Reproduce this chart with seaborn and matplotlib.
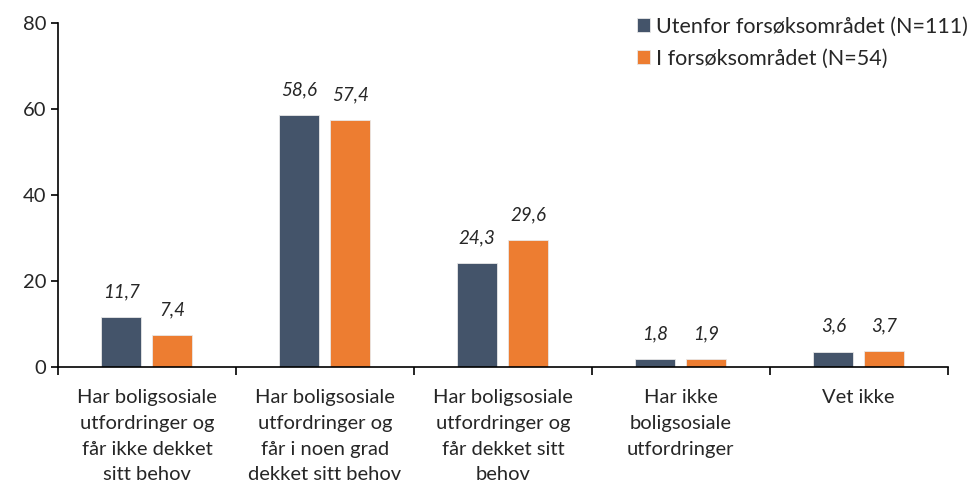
import pandas as pd
import numpy as np
import seaborn as sns
import matplotlib.pyplot as plt
from matplotlib.ticker import FixedLocator

categories = [
    "Har boligsosiale\nutfordringer og\nfår ikke dekket\nsitt behov",
    "Har boligsosiale\nutfordringer og\nfår i noen grad\ndekket sitt behov",
    "Har boligsosiale\nutfordringer og\nfår dekket sitt\nbehov",
    "Har ikke\nboligsosiale\nutfordringer",
    "Vet ikke",
]
utenfor = [11.7, 58.6, 24.3, 1.8, 3.6]
innenfor = [7.4, 57.4, 29.6, 1.9, 3.7]
groups = ["Utenfor forsøksområdet (N=111)", "I forsøksområdet (N=54)"]
colors = ["#44546A", "#ED7D31"]

df = pd.DataFrame({
    "kategori": categories * 2,
    "gruppe": [groups[0]] * 5 + [groups[1]] * 5,
    "verdi": utenfor + innenfor,
})

sns.set_style("white")
plt.rcParams["font.family"] = ["Lato", "DejaVu Sans"]

fig = plt.figure(figsize=(9.76, 4.93), dpi=100)
ax = fig.add_axes([0.0594, 0.2556, 0.9116, 0.6974])

sns.barplot(data=df, x="kategori", y="verdi", hue="gruppe", palette=colors,
            saturation=1, width=0.573, gap=0.216, edgecolor="#e8e8e8",
            linewidth=0.6, ax=ax, errorbar=None)

for cont in ax.containers:
    labels = [f"{v:.1f}".replace(".", ",") for v in cont.datavalues]
    ax.bar_label(cont, labels=labels, padding=12, fontsize=13.5, fontstyle="italic")

ax.set_ylim(0, 80)
ax.set_xlim(-0.5, 4.5)
ax.set_yticks([0, 20, 40, 60, 80])
ax.tick_params(axis="y", labelsize=14.5, length=5, width=1.2, color="black", left=True)
ax.tick_params(axis="x", which="major", labelsize=14.5, length=0, pad=16)
ax.xaxis.set_minor_locator(FixedLocator(np.arange(-0.5, 5, 1)))
ax.tick_params(axis="x", which="minor", length=6, width=1.2, color="black", bottom=True)
ax.set_xlabel("")
ax.set_ylabel("")
for t in ax.get_xticklabels():
    t.set_linespacing(1.62)

sns.despine(ax=ax)
for s in ["left", "bottom"]:
    ax.spines[s].set_color("black")
    ax.spines[s].set_linewidth(1.2)

ax.legend(loc="upper right", bbox_to_anchor=(1.045, 1.075), frameon=False,
          fontsize=15.5, handlelength=0.6, handleheight=0.6, handletextpad=0.3,
          labelspacing=0.55)

fig.savefig("out.png", dpi=100)
